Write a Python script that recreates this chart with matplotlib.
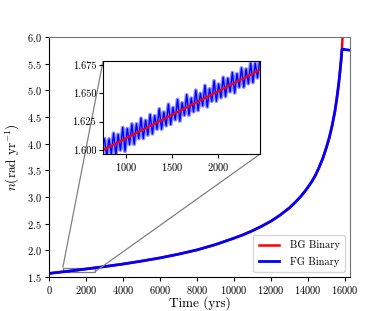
import numpy as np
import matplotlib
matplotlib.use("Agg")
import matplotlib.pyplot as plt
from mpl_toolkits.axes_grid1.inset_locator import mark_inset

plt.rcParams["font.family"] = "serif"
plt.rcParams["font.serif"] = ["cmr10", "DejaVu Serif"]
plt.rcParams["mathtext.fontset"] = "cm"
plt.rcParams["axes.formatter.use_mathtext"] = True

# main curves (time in yrs, n in rad/yr)
t_main = [0, 1000, 2000, 3000, 4000, 5000, 6000, 7000, 8000, 9000, 10000,
          10500, 11000, 11500, 12000, 12500, 13000, 13300, 13600, 13900,
          14200, 14400, 14600, 14800, 15000, 15150, 15300, 15450, 15550,
          15650, 15730, 15790]
n_main = [1.569, 1.609, 1.652, 1.697, 1.745, 1.800, 1.860, 1.930, 2.010,
          2.110, 2.230, 2.295, 2.370, 2.455, 2.550, 2.665, 2.800, 2.900,
          3.010, 3.140, 3.290, 3.410, 3.560, 3.730, 3.940, 4.120, 4.340,
          4.610, 4.840, 5.110, 5.370, 5.590]
t_bg_end = [15835, 15875]
n_bg_end = [5.820, 6.100]
t_fg_end = [15825, 15850, 15900, 16100, 16300]
n_fg_end = [5.740, 5.775, 5.770, 5.760, 5.750]

# zoom window: BG binary (smooth) and FG binary (oscillating)
t_bg_zoom = [745, 2465]
n_bg_zoom = [1.6000, 1.6710]
t_fg_peak = [760, 810, 860, 910, 960, 1010, 1060, 1110, 1160, 1210, 1260,
             1310, 1360, 1410, 1460, 1510, 1560, 1610, 1660, 1710, 1760,
             1810, 1860, 1910, 1960, 2010, 2060, 2110, 2160, 2210, 2260,
             2310, 2360, 2410, 2460]
n_fg_peak = [1.6096, 1.6097, 1.6148, 1.6138, 1.6199, 1.6189, 1.6230, 1.6231,
             1.6281, 1.6262, 1.6313, 1.6303, 1.6364, 1.6335, 1.6405, 1.6376,
             1.6447, 1.6417, 1.6488, 1.6459, 1.6529, 1.6500, 1.6571, 1.6541,
             1.6612, 1.6583, 1.6643, 1.6634, 1.6685, 1.6675, 1.6726, 1.6717,
             1.6767, 1.6768, 1.6795]
t_fg_trough = [785, 835, 885, 935, 985, 1035, 1085, 1135, 1185, 1235, 1285,
               1335, 1385, 1435, 1485, 1535, 1585, 1635, 1685, 1735, 1785,
               1835, 1885, 1935, 1985, 2035, 2085, 2135, 2185, 2235, 2285,
               2335, 2385, 2435]
n_fg_trough = [1.5947, 1.5967, 1.5958, 1.5999, 1.5989, 1.6050, 1.6051, 1.6101,
               1.6102, 1.6133, 1.6143, 1.6184, 1.6185, 1.6215, 1.6226, 1.6267,
               1.6257, 1.6308, 1.6309, 1.6339, 1.6350, 1.6391, 1.6381, 1.6432,
               1.6433, 1.6463, 1.6474, 1.6515, 1.6505, 1.6556, 1.6557, 1.6587,
               1.6598, 1.6639]

fig = plt.figure(figsize=(3.89, 3.11), dpi=100)
ax = fig.add_axes([0.126, 0.109, 0.774, 0.772])

ax.plot(t_main + t_bg_end, n_main + n_bg_end, color="red", lw=1.8, label="BG Binary")
ax.plot(t_main + t_fg_end, n_main + n_fg_end, color="blue", lw=2.0, label="FG Binary")
ax.set_xlim(0, 16270)
ax.set_ylim(1.5, 6.0)
ax.set_xticks(range(0, 16001, 2000))
ax.set_yticks(np.arange(1.5, 6.01, 0.5))
ax.tick_params(labelsize=7.5, length=3, pad=2)
ax.set_xlabel("Time (yrs)", fontsize=9.5, labelpad=0)
ax.set_ylabel(r"$n$(rad yr$^{-1}$)", fontsize=9.5, labelpad=4)
for side in ["top", "right"]:
    ax.spines[side].set_color("0.45")
ax.legend(loc="lower right", fontsize=7.5, handlelength=2.0, borderpad=0.5,
          labelspacing=0.6, handletextpad=1.0)

# FG zig-zag: alternate peaks and troughs
fg_t = []
fg_n = []
for i in range(len(t_fg_peak)):
    fg_t.append(t_fg_peak[i])
    fg_n.append(n_fg_peak[i])
    if i < len(t_fg_trough):
        fg_t.append(t_fg_trough[i])
        fg_n.append(n_fg_trough[i])

axins = fig.add_axes([0.265, 0.505, 0.404, 0.299])
axins.plot(fg_t, fg_n, color="blue", lw=2.8, alpha=0.45)
axins.plot(fg_t, fg_n, color="blue", lw=1.0)
axins.plot(t_bg_zoom, n_bg_zoom, color="red", lw=1.5)
axins.set_xlim(745, 2465)
axins.set_ylim(1.5965, 1.6788)
axins.set_xticks([1000, 1500, 2000])
axins.set_yticks([1.600, 1.625, 1.650, 1.675])
axins.yaxis.set_major_formatter(matplotlib.ticker.FormatStrFormatter("%.3f"))
axins.tick_params(labelsize=7.5, length=3, pad=2)
mark_inset(ax, axins, loc1=2, loc2=4, fc="none", ec="0.5", lw=0.9)

fig.savefig("out.png", dpi=100)
